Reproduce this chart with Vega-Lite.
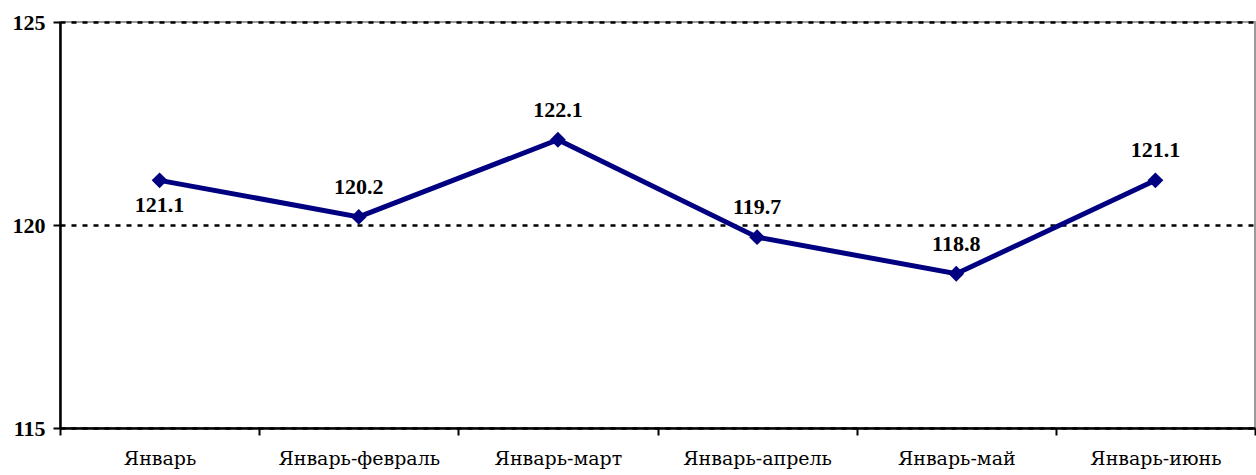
{
  "$schema": "https://vega.github.io/schema/vega-lite/v6.json",
  "autosize": "none",
  "padding": {"left": 60, "top": 22, "right": 1, "bottom": 47},
  "width": 1195,
  "height": 406,
  "background": "white",
  "config": {
    "view": {"stroke": "#9a9a9a", "strokeWidth": 2},
    "font": "Liberation Serif"
  },
  "data": {
    "values": [
      {"month": "Январь", "value": 121.1},
      {"month": "Январь-февраль", "value": 120.2},
      {"month": "Январь-март", "value": 122.1},
      {"month": "Январь-апрель", "value": 119.7},
      {"month": "Январь-май", "value": 118.8},
      {"month": "Январь-июнь", "value": 121.1}
    ]
  },
  "encoding": {
    "x": {
      "field": "month",
      "type": "nominal",
      "sort": null,
      "scale": {"paddingInner": 0, "paddingOuter": 0},
      "axis": {
        "title": null,
        "labelAngle": 0,
        "labelFont": "DejaVu Serif",
        "labelFontSize": 19,
        "labelColor": "black",
        "labelPadding": 14,
        "tickBand": "extent",
        "tickSize": 7,
        "tickWidth": 2,
        "tickColor": "black",
        "domainColor": "black",
        "domainWidth": 2.5,
        "grid": false
      }
    },
    "y": {
      "field": "value",
      "type": "quantitative",
      "scale": {"domain": [115, 125], "nice": false, "zero": false},
      "axis": {
        "title": null,
        "values": [115, 120, 125],
        "labelFont": "Liberation Serif",
        "labelFontSize": 22,
        "labelFontWeight": "bold",
        "labelColor": "black",
        "labelPadding": 8,
        "tickSize": 7,
        "tickWidth": 2,
        "tickColor": "black",
        "domainColor": "black",
        "domainWidth": 2.5,
        "grid": true,
        "gridColor": "black",
        "gridWidth": 2.5,
        "gridDash": [5, 6]
      }
    }
  },
  "layer": [
    {
      "mark": {"type": "line", "color": "#000080", "strokeWidth": 5}
    },
    {
      "mark": {"type": "point", "shape": "diamond", "filled": true, "opacity": 1, "color": "#000080", "size": 250}
    },
    {
      "transform": [{"filter": "datum.month === 'Январь'"}],
      "mark": {"type": "text", "dy": 25, "fontSize": 22, "fontWeight": "bold", "font": "Liberation Serif", "color": "black"},
      "encoding": {"text": {"field": "value", "type": "quantitative", "format": ".1f"}}
    },
    {
      "transform": [{"filter": "datum.month !== 'Январь'"}],
      "mark": {"type": "text", "dy": -30, "fontSize": 22, "fontWeight": "bold", "font": "Liberation Serif", "color": "black"},
      "encoding": {"text": {"field": "value", "type": "quantitative", "format": ".1f"}}
    }
  ]
}
